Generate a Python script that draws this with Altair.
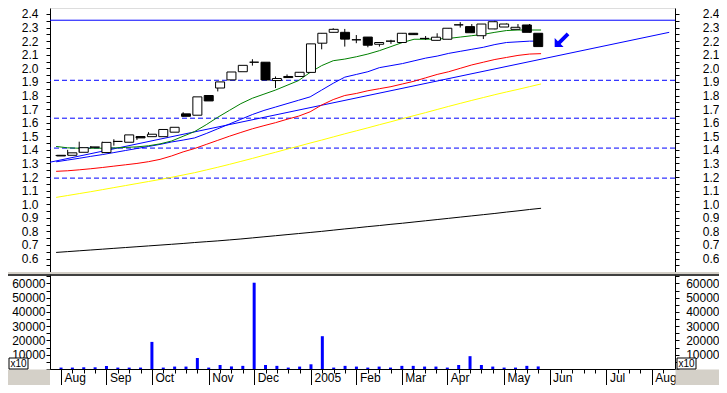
import altair as alt
import pandas as pd

# ---------------- data (weekly bars, Aug 2004 - May 2005) ----------------
weeks = list(range(43))
opens = [1.36, 1.36, 1.382, 1.42, 1.38, 1.462, 1.456, 1.498, 1.497, 1.497,
         1.53, 1.665, 1.655, 1.80, 1.855, 1.915, 1.975, 2.045, 2.045, 1.91,
         1.94, 1.94, 1.97, 2.185, 2.265, 2.265, 2.21, 2.23, 2.177, 2.20,
         2.19, 2.258, 2.22, 2.206, 2.214, 2.32, 2.307, 2.24, 2.29, 2.304,
         2.287, 2.319, 2.258]
highs = [1.362, 1.40, 1.46, 1.428, 1.46, 1.478, 1.51, 1.498, 1.53, 1.55,
         1.566, 1.677, 1.79, 1.80, 1.90, 1.973, 2.022, 2.067, 2.045, 1.94,
         1.955, 1.971, 2.18, 2.26, 2.295, 2.29, 2.245, 2.23, 2.19, 2.21,
         2.258, 2.258, 2.238, 2.258, 2.295, 2.34, 2.326, 2.326, 2.35, 2.33,
         2.326, 2.326, 2.258]
lows = [1.355, 1.36, 1.38, 1.412, 1.375, 1.431, 1.456, 1.473, 1.497, 1.497,
        1.53, 1.645, 1.655, 1.76, 1.83, 1.915, 1.975, 2.02, 1.914, 1.855,
        1.93, 1.94, 1.97, 2.14, 2.265, 2.16, 2.185, 2.155, 2.16, 2.18,
        2.19, 2.248, 2.209, 2.206, 2.214, 2.30, 2.262, 2.216, 2.287, 2.304,
        2.287, 2.265, 2.16]
closes = [1.355, 1.378, 1.416, 1.42, 1.455, 1.462, 1.51, 1.488, 1.515, 1.55,
          1.566, 1.647, 1.79, 1.76, 1.90, 1.973, 2.022, 2.045, 1.914, 1.925,
          1.932, 1.971, 2.18, 2.258, 2.287, 2.215, 2.21, 2.17, 2.19, 2.20,
          2.258, 2.248, 2.22, 2.229, 2.295, 2.32, 2.262, 2.326, 2.343, 2.326,
          2.302, 2.265, 2.16]
volumes = [1000, 1000, 1200, 1200, 2100, 1000, 1000, 1000, 19000, 1000,
           1700, 1700, 7700, 1000, 2800, 1800, 2200, 60500, 2800, 2200,
           1000, 1700, 3300, 23000, 1000, 2200, 1700, 1000, 1700, 1000,
           2200, 2200, 1700, 1700, 1000, 2800, 9000, 2800, 1700, 1000,
           1000, 2200, 1800]

ma_green = [1.425, 1.415, 1.412, 1.412, 1.412, 1.414, 1.418, 1.422, 1.43, 1.444,
            1.465, 1.50, 1.535, 1.585, 1.64, 1.69, 1.74, 1.78, 1.81, 1.84,
            1.875, 1.91, 1.97, 2.02, 2.056, 2.068, 2.085, 2.105, 2.13, 2.16,
            2.19, 2.214, 2.214, 2.216, 2.22, 2.23, 2.24, 2.25, 2.265, 2.278,
            2.282, 2.282, 2.282]
ma_blue = [1.312, 1.325, 1.338, 1.352, 1.365, 1.38, 1.395, 1.41, 1.425, 1.44,
           1.458, 1.472, 1.488, 1.52, 1.555, 1.59, 1.625, 1.66, 1.69, 1.715,
           1.74, 1.765, 1.79, 1.84, 1.89, 1.935, 1.955, 1.975, 2.005, 2.02,
           2.035, 2.055, 2.075, 2.09, 2.11, 2.125, 2.14, 2.155, 2.175, 2.19,
           2.195, 2.20, 2.20]
ma_red = [1.242, 1.246, 1.253, 1.261, 1.27, 1.28, 1.29, 1.30, 1.313, 1.33,
          1.355, 1.385, 1.41, 1.44, 1.47, 1.50, 1.528, 1.555, 1.578, 1.60,
          1.625, 1.648, 1.68, 1.73, 1.77, 1.80, 1.815, 1.835, 1.85, 1.865,
          1.885, 1.905, 1.93, 1.955, 1.975, 2.00, 2.025, 2.045, 2.065, 2.08,
          2.095, 2.105, 2.108]
ma_yellow = [1.05, 1.064, 1.078, 1.092, 1.107, 1.122, 1.137, 1.152, 1.167, 1.182,
             1.198, 1.215, 1.232, 1.252, 1.272, 1.293, 1.315, 1.337, 1.36, 1.382,
             1.405, 1.427, 1.45, 1.472, 1.495, 1.518, 1.54, 1.562, 1.585, 1.607,
             1.63, 1.652, 1.674, 1.697, 1.72, 1.742, 1.764, 1.785, 1.806, 1.826,
             1.845, 1.865, 1.885]
ma_black = [0.645, 0.651, 0.657, 0.663, 0.669, 0.675, 0.681, 0.687, 0.693, 0.699,
            0.705, 0.711, 0.718, 0.724, 0.73, 0.737, 0.744, 0.752, 0.76, 0.768,
            0.776, 0.784, 0.792, 0.80, 0.809, 0.818, 0.826, 0.835, 0.843, 0.852,
            0.86, 0.869, 0.878, 0.887, 0.896, 0.905, 0.914, 0.923, 0.932, 0.942,
            0.951, 0.961, 0.97]

hline_solid = [2.354]
hline_dashed = [1.912, 1.633, 1.413, 1.192]
trend_weeks = [-0.53, 53.1]
trend_prices = [1.309, 2.265]
arrow_week = [43.85]
arrow_price = [2.214]

month_weeks = [0, 4, 8, 13, 17, 22, 26, 30, 34, 39, 43, 48, 52]
month_labels = ["Aug", "Sep", "Oct", "Nov", "Dec", "2005", "Feb", "Mar",
                "Apr", "May", "Jun", "Jul", "Aug"]
all_weeks = list(range(0, 54))
price_ticks = [round(0.5 + 0.05 * i, 2) for i in range(39)]
vol_ticks = [5000 * i for i in range(14)]

# ---------------- layout ----------------
W, H = 625, 361
FONT = "Liberation Sans"
x_scale = alt.Scale(domain=[-0.53, 53.6], nice=False, zero=False)
p_scale = alt.Scale(domain=[0.501, 2.444], range=[264, 0], nice=False, zero=False)
v_scale = alt.Scale(domain=[0, 65900], range=[361, 267], nice=False, zero=False)

df = pd.DataFrame(dict(week=weeks, open=opens, high=highs, low=lows,
                       close=closes, volume=volumes))
one = pd.DataFrame({"a": [0]})

def X(field="week:Q", axis=None):
    return alt.X(field, scale=x_scale, axis=axis)

def PY(field, axis=None):
    return alt.Y(field, scale=p_scale, axis=axis)

def VY(field, axis=None):
    return alt.Y(field, scale=v_scale, axis=axis)

axis_common = dict(title=None, grid=False, labelFont=FONT, labelFontSize=12,
                   labelColor="black", tickColor="black", domainColor="black",
                   labelOverlap=False, labelFlush=False, zindex=0)

price_label_expr = ("(datum.value >= 0.55 && abs(datum.value*10 - round(datum.value*10)) < 0.001)"
                    " ? format(datum.value, '.1f') : ''")
price_left = alt.Axis(orient="left", values=price_ticks, labelExpr=price_label_expr,
                      tickSize=4, labelPadding=8, **axis_common)
price_right = alt.Axis(orient="right", values=price_ticks, labelExpr=price_label_expr,
                       tickSize=4, labelPadding=40, labelAlign="right", **axis_common)

vol_label_expr = "(datum.value >= 10000 && datum.value % 10000 == 0) ? format(datum.value, 'd') : ''"
vol_left = alt.Axis(orient="left", values=vol_ticks, labelExpr=vol_label_expr,
                    tickSize=4, labelPadding=1, **axis_common)
vol_right = alt.Axis(orient="right", values=vol_ticks, labelExpr=vol_label_expr,
                     tickSize=4, labelPadding=40, labelAlign="right", **axis_common)

month_expr = "".join(f"datum.value == {w} ? '{l}' : " for w, l in zip(month_weeks, month_labels)) + "''"
month_test = "indexof([" + ",".join(str(w) for w in month_weeks) + "], datum.value) >= 0"
x_axis = alt.Axis(orient="bottom", values=all_weeks, labelExpr=month_expr,
                  tickSize={"condition": {"test": month_test, "value": 16}, "value": 4},
                  labelAlign="left", labelBaseline="middle", labelPadding=-8, labelOffset=3,
                  **axis_common)

layers = []

# horizontal levels
layers.append(alt.Chart(pd.DataFrame({"y": hline_solid})).mark_rule(color="#0000ff", strokeWidth=1)
              .encode(y=PY("y:Q")))
layers.append(alt.Chart(pd.DataFrame({"y": hline_dashed})).mark_rule(color="#0000ff", strokeWidth=1,
                                                                      strokeDash=[5, 3])
              .encode(y=PY("y:Q")))
# trend line
layers.append(alt.Chart(pd.DataFrame({"week": trend_weeks, "v": trend_prices}))
              .mark_line(color="#0000ff", strokeWidth=1).encode(x=X(), y=PY("v:Q")))
# moving averages
for vals, col in [(ma_black, "#000000"), (ma_yellow, "#ffff00"), (ma_red, "#ff0000"),
                  (ma_blue, "#0000ff"), (ma_green, "#008000")]:
    layers.append(alt.Chart(pd.DataFrame({"week": weeks, "v": vals}))
                  .mark_line(color=col, strokeWidth=1).encode(x=X(), y=PY("v:Q")))
# candles
layers.append(alt.Chart(df).mark_rule(color="black", strokeWidth=1)
              .encode(x=X(), y=PY("low:Q", axis=price_left), y2="high:Q"))
layers.append(alt.Chart(df).mark_bar(width=9, stroke="black", strokeWidth=1)
              .encode(x=X(), y=PY("open:Q", axis=price_right), y2="close:Q",
                      fill=alt.condition("datum.close >= datum.open",
                                         alt.value("white"), alt.value("black"))))
# arrow annotation
arrow_path = "M -1 1 L -1 -0.15 L -0.58 0.27 L 0.55 -0.86 L 0.9 -0.51 L -0.23 0.62 L 0.15 1 Z"
layers.append(alt.Chart(pd.DataFrame({"week": arrow_week, "v": arrow_price}))
              .mark_point(shape=arrow_path, filled=True, color="#0000ff", size=240, opacity=1)
              .encode(x=X(), y=PY("v:Q")))

# panel separator
layers.append(alt.Chart(one).mark_rule(color="#d4d0c8", strokeWidth=2)
              .encode(x=alt.value(-42), x2=alt.value(669), y=alt.value(265)))
layers.append(alt.Chart(one).mark_rule(color="black", strokeWidth=1.5)
              .encode(x=alt.value(-42), x2=alt.value(669), y=alt.value(267)))

# volume
layers.append(alt.Chart(df).mark_bar(width=3, color="#0000ff")
              .encode(x=X(axis=x_axis), y=VY("volume:Q", axis=vol_left)))
layers.append(alt.Chart(df).mark_bar(width=3, opacity=0)
              .encode(x=X(), y=VY("volume:Q", axis=vol_right)))

# grey corner boxes
layers.append(alt.Chart(one).mark_rect(color="#d4d0c8")
              .encode(x=alt.value(-42), x2=alt.value(0), y=alt.value(361.5), y2=alt.value(377)))
layers.append(alt.Chart(one).mark_rect(color="#d4d0c8")
              .encode(x=alt.value(625.5), x2=alt.value(669), y=alt.value(361.5), y2=alt.value(377)))
# x10 boxes
for x0 in (-41, 627):
    layers.append(alt.Chart(one).mark_rect(fill="white", stroke="black", strokeWidth=1)
                  .encode(x=alt.value(x0), x2=alt.value(x0 + 19), y=alt.value(350), y2=alt.value(361)))
    layers.append(alt.Chart(one).mark_text(text="x10", font=FONT, fontSize=10, color="black")
                  .encode(x=alt.value(x0 + 9.5), y=alt.value(356)))

chart = (alt.layer(*layers)
         .resolve_scale(x="independent", y="independent")
         .resolve_axis(x="independent", y="independent")
         .properties(width=W, height=H,
                     padding={"left": 42, "top": 0, "right": 44, "bottom": 16},
                     autosize=alt.AutoSizeParams(type="none"))
         .configure_view(stroke=None)
         .configure(background="white"))

chart.save("out.html", embed_options={"renderer": "svg", "actions": False})
